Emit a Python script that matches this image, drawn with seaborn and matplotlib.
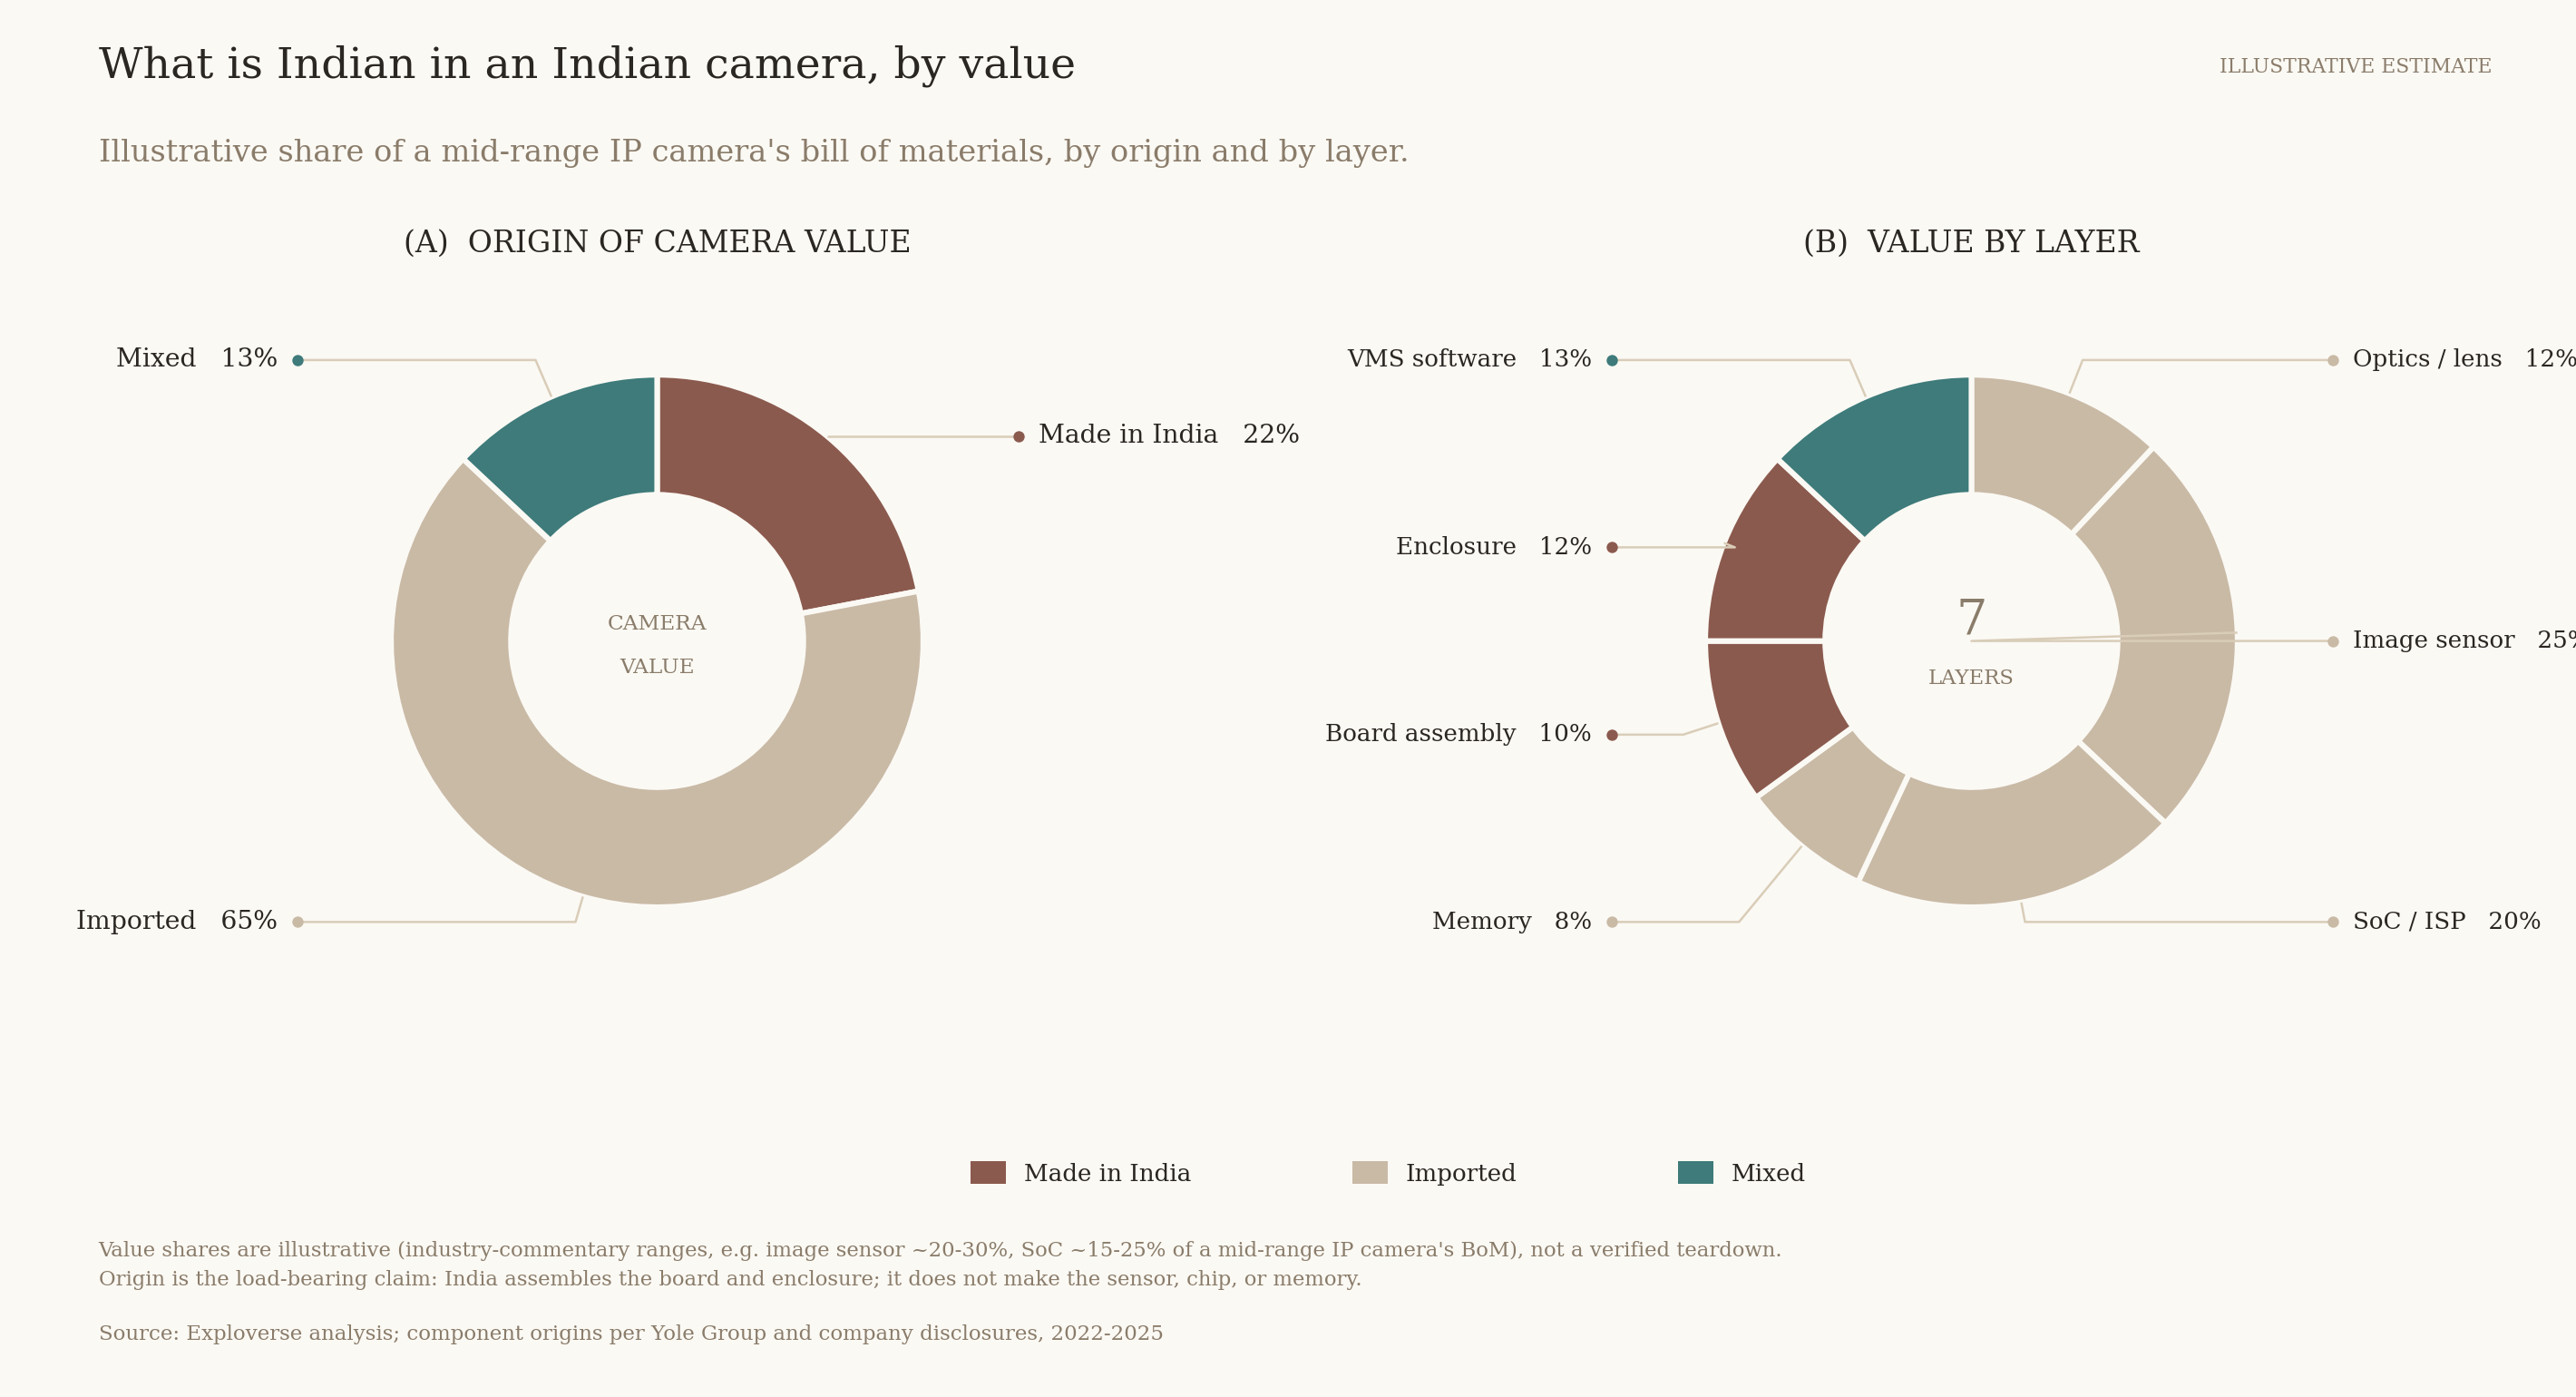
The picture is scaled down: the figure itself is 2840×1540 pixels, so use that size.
import numpy as np
import matplotlib
matplotlib.use("Agg")
import matplotlib.pyplot as plt
from matplotlib.patches import Patch
import seaborn as sns

# data
origin_labels = ["Made in India", "Imported", "Mixed"]
origin_share = [22, 65, 13]

layer_labels = ["Optics / lens", "Image sensor", "SoC / ISP", "Memory",
                "Board assembly", "Enclosure", "VMS software"]
layer_share = [12, 25, 20, 8, 10, 12, 13]
layer_origin = ["Imported", "Imported", "Imported", "Imported",
                "Made in India", "Made in India", "Mixed"]

palette = {"Made in India": "#8B5A4E", "Imported": "#C9BAA6", "Mixed": "#3E7B7A"}

BG = "#FBF9F4"
DARK = "#2A2622"
MUTED = "#8A7C6A"
LEADER = "#D9CDB8"

sns.set_theme(style="white")
plt.rcParams["font.family"] = ["DejaVu Serif"]

W, H = 1568, 850
fig = plt.figure(figsize=(14.2, 7.7), dpi=200, facecolor=BG)
ax = fig.add_axes([0, 0, 1, 1])
ax.set_facecolor(BG)
ax.set_xlim(0, W)
ax.set_ylim(0, H)
ax.set_aspect("equal")
ax.axis("off")


def Y(y):
    return H - y


R, RIN = 162, 89


def donut(cx, cy, labels, shares, colors, fs):
    ax.pie(shares, colors=colors, center=(cx, Y(cy)), radius=R, startangle=90,
           counterclock=False, wedgeprops=dict(width=R - RIN, edgecolor=BG, linewidth=2.2),
           frame=True)
    total = float(sum(shares))
    cum = np.cumsum([0] + list(shares))[:-1]
    mids = (cum + np.array(shares) / 2) / total * 2 * np.pi
    sx, sy = np.sin(mids), np.cos(mids)
    left = [i for i in range(len(shares)) if sx[i] < 0]
    right = [i for i in range(len(shares)) if sx[i] >= 0]
    for side, sign in ((left, -1), (right, 1)):
        side = sorted(side, key=lambda i: -sy[i])
        n = len(side)
        if n == 1:
            ys = [R * sy[side[0]]]
        else:
            ys = list(np.linspace(171, -171, n))
        for i, ly in zip(side, ys):
            ex, ey = R * sx[i], R * sy[i]
            re = ly / sy[i] if abs(sy[i]) > 1e-6 else 0
            bx, by = re * sx[i], ly
            dx = 220 if sign > 0 else -219
            ax.plot([cx + ex, cx + bx, cx + dx], [Y(cy) + ey, Y(cy) + by, Y(cy) + by],
                    color=LEADER, lw=0.9, zorder=1, solid_capstyle="butt")
            ax.scatter([cx + dx], [Y(cy) + by], s=20, color=colors[i], zorder=3, lw=0)
            txt = f"{labels[i]}   {shares[i]}%"
            ax.text(cx + dx + sign * 12, Y(cy) + by, txt, ha="left" if sign > 0 else "right",
                    va="center", fontsize=fs, color=DARK)


donut(400, 390, origin_labels, origin_share, [palette[o] for o in origin_labels], 10.2)
donut(1200, 390, layer_labels, layer_share, [palette[o] for o in layer_origin], 9.4)
ax.set_xlim(0, W)
ax.set_ylim(0, H)

# center texts
ax.text(400, Y(380), "CAMERA", ha="center", va="center", fontsize=8.4, color=MUTED)
ax.text(400, Y(406), "VALUE", ha="center", va="center", fontsize=8.4, color=MUTED)
ax.text(1200, Y(378), str(len(layer_labels)), ha="center", va="center", fontsize=19.5, color=MUTED)
ax.text(1200, Y(413), "LAYERS", ha="center", va="center", fontsize=8.2, color=MUTED)

# titles
ax.text(60, Y(40), "What is Indian in an Indian camera, by value", ha="left", va="center",
        fontsize=17, color=DARK)
ax.text(1517, Y(41), "ILLUSTRATIVE ESTIMATE", ha="right", va="center", fontsize=7.9, color=MUTED)
ax.text(60, Y(93), "Illustrative share of a mid-range IP camera's bill of materials, by origin and by layer.",
        ha="left", va="center", fontsize=12.1, color=MUTED)
ax.text(400, Y(148), "(A)  ORIGIN OF CAMERA VALUE", ha="center", va="center", fontsize=11.9, color=DARK)
ax.text(1200, Y(148), "(B)  VALUE BY LAYER", ha="center", va="center", fontsize=11.9, color=DARK)

# legend
handles = [Patch(facecolor=palette[k], edgecolor="none", label=k) for k in origin_labels]
leg = ax.legend(handles=handles, loc="center", bbox_to_anchor=(845 / W, 1 - 714 / H), ncol=3,
                frameon=False, fontsize=9.4, handlelength=1.5, handleheight=1.1,
                columnspacing=6.8, handletextpad=0.75)
for t in leg.get_texts():
    t.set_color(DARK)

# notes
notes = ["Value shares are illustrative (industry-commentary ranges, e.g. image sensor ~20-30%, SoC ~15-25% of a mid-range IP camera's BoM), not a verified teardown.",
         "Origin is the load-bearing claim: India assembles the board and enclosure; it does not make the sensor, chip, or memory."]
ax.text(60, Y(761), notes[0], ha="left", va="center", fontsize=8.2, color=MUTED)
ax.text(60, Y(779), notes[1], ha="left", va="center", fontsize=8.2, color=MUTED)
ax.text(60, Y(812), "Source: Exploverse analysis; component origins per Yole Group and company disclosures, 2022-2025",
        ha="left", va="center", fontsize=8.25, color=MUTED)

fig.savefig("out.png", dpi=200, facecolor=BG)
